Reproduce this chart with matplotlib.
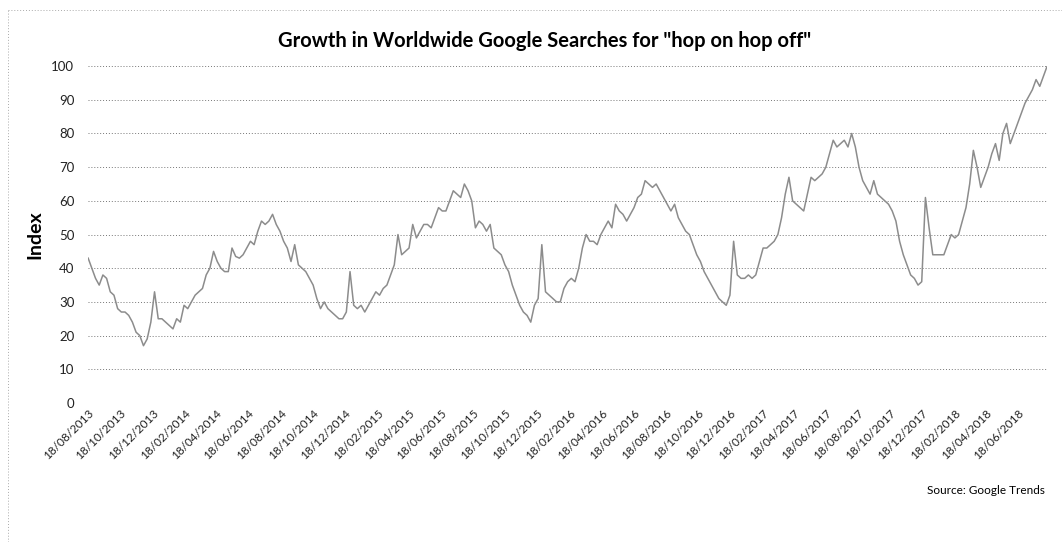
import numpy as np
import matplotlib
matplotlib.use('Agg')
import matplotlib.pyplot as plt
import matplotlib.dates as mdates
from matplotlib.lines import Line2D

plt.rcParams['font.family'] = ['Lato', 'DejaVu Sans']

# weekly search index, first week starting 18/08/2013
START_DATE = '2013-08-18'
index_values = [
    43, 40, 37, 35, 38, 37, 33, 32, 28, 27,
    27, 26, 24, 21, 20, 17, 19, 24, 33, 25,
    25, 24, 23, 22, 25, 24, 29, 28, 30, 32,
    33, 34, 38, 40, 45, 42, 40, 39, 39, 46,
    43.5, 43, 44, 46, 48, 47, 51, 54, 53, 54,
    56, 53, 51, 48, 46, 42, 47, 41, 40, 39,
    37, 35, 31, 28, 30, 28, 27, 26, 25, 25,
    27, 39, 29, 28, 29, 27, 29, 31, 33, 32,
    34, 35, 38, 41, 50, 44, 45, 46, 53, 49,
    51, 53, 53, 52, 55, 58, 57, 57, 60, 63,
    62, 61, 65, 63, 60, 52, 54, 53, 51, 53,
    46, 45, 44, 41, 39, 35, 32, 29, 27, 26,
    24, 29, 31, 47, 33, 32, 31, 30, 30, 34,
    36, 37, 36, 40, 46, 50, 48, 48, 47, 50,
    52, 54, 52, 59, 57, 56, 54, 56, 58, 61,
    62, 66, 65, 64, 65, 63, 61, 59, 57, 59,
    55, 53, 51, 50, 47, 44, 42, 39, 37, 35,
    33, 31, 30, 29, 32, 48, 38, 37, 37, 38,
    37, 38, 42, 46, 46, 47, 48, 50, 55, 62,
    67, 60, 59, 58, 57, 62, 67, 66, 67, 68,
    70, 74, 78, 76, 77, 78, 76, 80, 76, 70,
    66, 64, 62, 66, 62, 61, 60, 59, 57, 54,
    48, 44, 41, 38, 37, 35, 36, 61, 52, 44,
    44, 44, 44, 47, 50, 49, 50, 54, 58, 65,
    75, 70, 64, 67, 70, 74, 77, 72, 80, 83,
    77, 80, 83, 86, 89, 91, 93, 96, 94, 97,
    100,
]

y_ticks = list(range(0, 101, 10))

weeks = np.arange(len(index_values))
dates = np.datetime64(START_DATE) + weeks * np.timedelta64(7, 'D')
dates = dates.astype('datetime64[D]').astype(object)

fig = plt.figure(figsize=(10.62, 5.42), dpi=100)
ax = fig.add_axes([0.083, 0.2565, 0.903, 0.6215])

ax.plot(dates, index_values, color='#8c8c8c', linewidth=1.1)

ax.set_ylim(0, 100)
ax.set_yticks(y_ticks)
ax.set_xlim(dates[0], dates[-1])
ax.yaxis.grid(True, linestyle=(0, (1, 2)), color='#777777', linewidth=0.7)
ax.set_axisbelow(True)
for s in ax.spines.values():
    s.set_visible(False)
ax.tick_params(axis='both', length=0, colors='#222222')
ax.tick_params(axis='y', pad=10, labelsize=9.5)

ax.xaxis.set_major_locator(mdates.MonthLocator(bymonth=[2, 4, 6, 8, 10, 12], bymonthday=18))
ax.xaxis.set_major_formatter(mdates.DateFormatter('%d/%m/%Y'))
for lbl in ax.get_xticklabels():
    lbl.set_rotation(45)
    lbl.set_ha('right')
    lbl.set_rotation_mode('anchor')
    lbl.set_fontsize(8.5)

ax.set_ylabel('Index', fontsize=14, fontweight='bold', labelpad=6)

fig.text(0.513, 0.925, 'Growth in Worldwide Google Searches for "hop on hop off"',
         ha='center', va='center', fontsize=14.5, fontweight='bold')
fig.text(0.984, 0.095, 'Source: Google Trends', ha='right', va='center', fontsize=8.5)

# faint border of the scanned chart box
fig.add_artist(Line2D([0.008, 1.0], [0.982, 0.982], transform=fig.transFigure,
                      color='#aaaaaa', linestyle=(0, (1, 2)), linewidth=0.7))
fig.add_artist(Line2D([0.008, 0.008], [0.0, 0.982], transform=fig.transFigure,
                      color='#aaaaaa', linestyle=(0, (1, 2)), linewidth=0.7))

fig.savefig('out.png', dpi=100)
